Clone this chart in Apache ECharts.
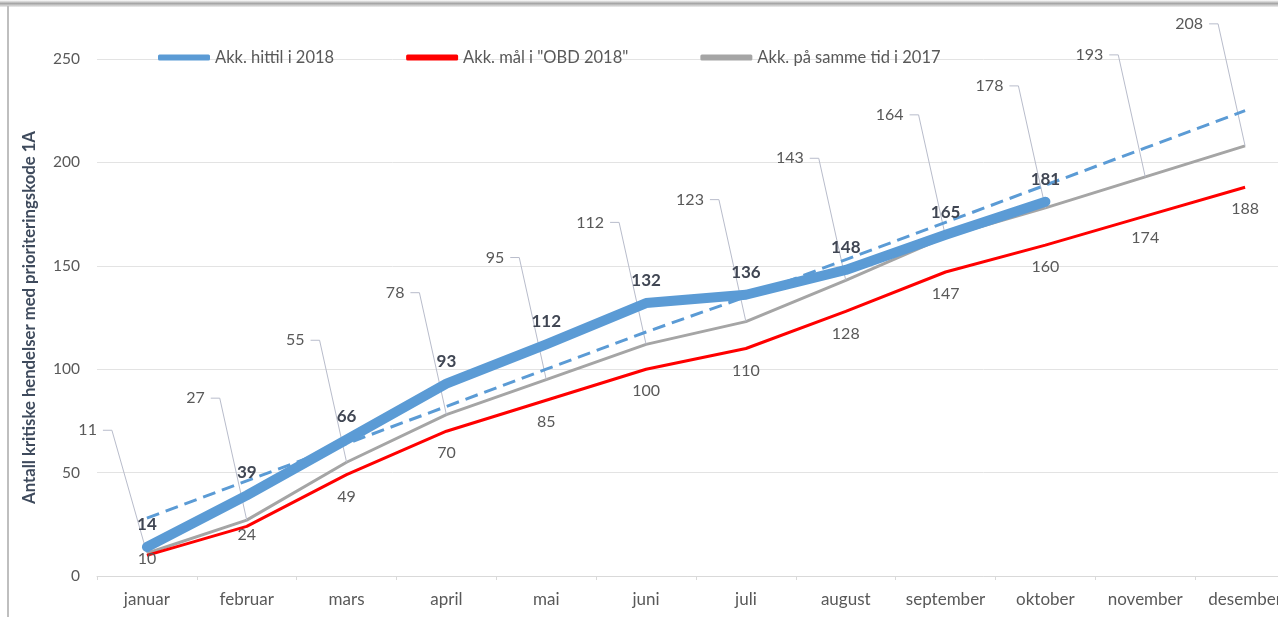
<!DOCTYPE html>
<html>
<head>
<meta charset="utf-8">
<script src="https://cdn.jsdelivr.net/npm/echarts@6/dist/echarts.min.js"></script>
<style>
  html, body { margin: 0; padding: 0; background: #fff; }
  #chart { width: 1278px; height: 617px; }
</style>
</head>
<body>
<div id="chart"></div>
<script>
// måneder
const months = ['januar', 'februar', 'mars', 'april', 'mai', 'juni', 'juli', 'august', 'september', 'oktober', 'november', 'desember'];
// Akk. hittil i 2018 (til og med oktober)
const hittil2018 = [14, 39, 66, 93, 112, 132, 136, 148, 165, 181];
// Akk. mål i "OBD 2018"
const maal2018 = [10, 24, 49, 70, 85, 100, 110, 128, 147, 160, 174, 188];
// Akk. på samme tid i 2017
const samme2017 = [11, 27, 55, 78, 95, 112, 123, 143, 164, 178, 193, 208];
// trendlinje (stiplet), lest av bildet
const trend = [28, 46, 64, 82, 100, 118, 135, 153, 171, 189, 207, 225];
const yTicks = [0, 50, 100, 150, 200, 250];

const font = 'Lato, "Open Sans", sans-serif';
const chart = echarts.init(document.getElementById('chart'), null, { renderer: 'canvas' });

const option = {
  backgroundColor: '#ffffff',
  animation: false,
  textStyle: { fontFamily: font },
  graphic: [
    { type: 'rect', shape: { x: 0, y: 0, width: 1278, height: 7 },
      style: { fill: new echarts.graphic.LinearGradient(0, 0, 0, 1, [
        { offset: 0, color: '#ffffff' }, { offset: 0.5, color: '#a6a6a6' }, { offset: 1, color: '#eeeeee' }]) } },
    { type: 'rect', shape: { x: 7, y: 6, width: 2, height: 611 }, style: { fill: '#bfbfbf' } }
  ],
  legend: {
    left: 153, top: 44,
    itemWidth: 52, itemHeight: 6, itemGap: 72,
    icon: 'roundRect',
    textStyle: { color: '#595959', fontSize: 16.5, fontFamily: font },
    data: ['Akk. hittil i 2018', 'Akk. mål i "OBD 2018"', 'Akk. på samme tid i 2017']
  },
  grid: { left: 97, right: -17, top: 59, bottom: 41, outerBoundsMode: 'none' },
  xAxis: {
    type: 'category',
    data: months,
    boundaryGap: true,
    axisLine: { lineStyle: { color: '#d9d9d9', width: 1 } },
    axisTick: { show: true, alignWithLabel: false, length: 4, lineStyle: { color: '#d9d9d9' } },
    axisLabel: { color: '#595959', fontSize: 17, margin: 15, fontFamily: font, interval: 0 }
  },
  yAxis: {
    type: 'value',
    min: yTicks[0], max: yTicks[yTicks.length - 1], interval: 50,
    name: 'Antall kritiske hendelser med prioriteringskode 1A',
    nameLocation: 'middle', nameGap: 59,
    nameTextStyle: { color: '#3e4a5c', fontSize: 16.7, fontWeight: 'bold', fontFamily: font },
    axisLine: { show: false },
    axisTick: { show: false },
    axisLabel: { color: '#595959', fontSize: 15.5, margin: 17, fontFamily: font },
    splitLine: { lineStyle: { color: '#e3e3e3', width: 1 } }
  },
  series: [
    {
      name: 'Akk. på samme tid i 2017',
      type: 'line',
      data: samme2017,
      symbol: 'circle',
      symbolSize: 0.1,
      showSymbol: true,
      z: 2,
      itemStyle: { color: '#a5a5a5' },
      lineStyle: { color: '#a5a5a5', width: 3 },
      label: {
        show: true, position: 'inside', align: 'right', verticalAlign: 'middle',
        padding: [0, 6, 0, 60], lineHeight: 18,
        color: '#595959', fontSize: 16, fontFamily: font
      },
      labelLayout: function (p) {
        if (p.dataIndex === 0) return { dx: -44, dy: -123, hideOverlap: false };
        return { dx: -36, dy: -122, hideOverlap: false };
      },
      labelLine: { show: true, length2: 9, smooth: false, lineStyle: { color: '#b8bccb', width: 1 } }
    },
    {
      name: 'Akk. mål i "OBD 2018"',
      type: 'line',
      data: maal2018,
      symbol: 'circle',
      symbolSize: 0.1,
      showSymbol: true,
      z: 3,
      itemStyle: { color: '#ff0000' },
      lineStyle: { color: '#ff0000', width: 3 },
      label: { show: true, position: 'bottom', distance: 14, color: '#595959', fontSize: 16, fontFamily: font },
      labelLayout: function (p) {
        if (p.dataIndex === 0) return { dy: -19 };
        if (p.dataIndex === 1) return { dy: -14 };
        return {};
      }
    },
    {
      name: 'trend',
      type: 'line',
      data: trend,
      symbol: 'none',
      z: 4,
      lineStyle: { color: '#5b9bd5', width: 3, type: [13, 7] },
      silent: true
    },
    {
      name: 'Akk. hittil i 2018',
      type: 'line',
      data: hittil2018,
      symbol: 'circle',
      symbolSize: 0.1,
      showSymbol: true,
      z: 5,
      itemStyle: { color: '#5b9bd5' },
      lineStyle: { color: '#5b9bd5', width: 10, cap: 'round', join: 'round' },
      label: { show: true, position: 'top', distance: 14, color: '#404653', fontSize: 17, fontWeight: 'bold', fontFamily: font }
    }
  ]
};

chart.setOption(option);
</script>
</body>
</html>
